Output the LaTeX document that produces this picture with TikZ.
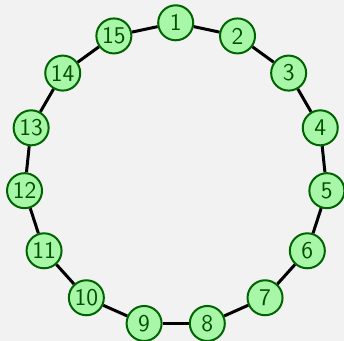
\documentclass[tikz,border=0pt]{standalone}
\usepackage{tikz}
\usetikzlibrary{calc}
\definecolor{ringfill}{RGB}{168,247,168}
\definecolor{ringline}{RGB}{0,100,0}
\definecolor{ringtext}{RGB}{0,80,0}
\definecolor{bggray}{RGB}{242,242,242}

\begin{document}
\begin{tikzpicture}[x=0.5pt, y=-0.5pt,
    vertex/.style={circle, draw=ringline, fill=ringfill, line width=1pt,
        minimum size=17.5pt, inner sep=0pt, text=ringtext, font=\sffamily\large},
    link/.style={line width=1.5pt, black}]
    % Draw background
    \fill[bggray] (0,0) rectangle (344,341);
    \useasboundingbox (0,0) rectangle (344,341);
    % Draw vertices on the ring
    \foreach \i in {1,...,15} {
        \node[vertex] (n\i) at ({175.7+152*cos(90-24*(\i-1))}, {174.8-152*sin(90-24*(\i-1))}) {\i};
    }
    % Draw ring edges
    \foreach \i [evaluate=\i as \j using {int(mod(\i,15)+1)}] in {1,...,15} {
        \draw[link] (n\i) -- (n\j);
    }
\end{tikzpicture}
\end{document}
